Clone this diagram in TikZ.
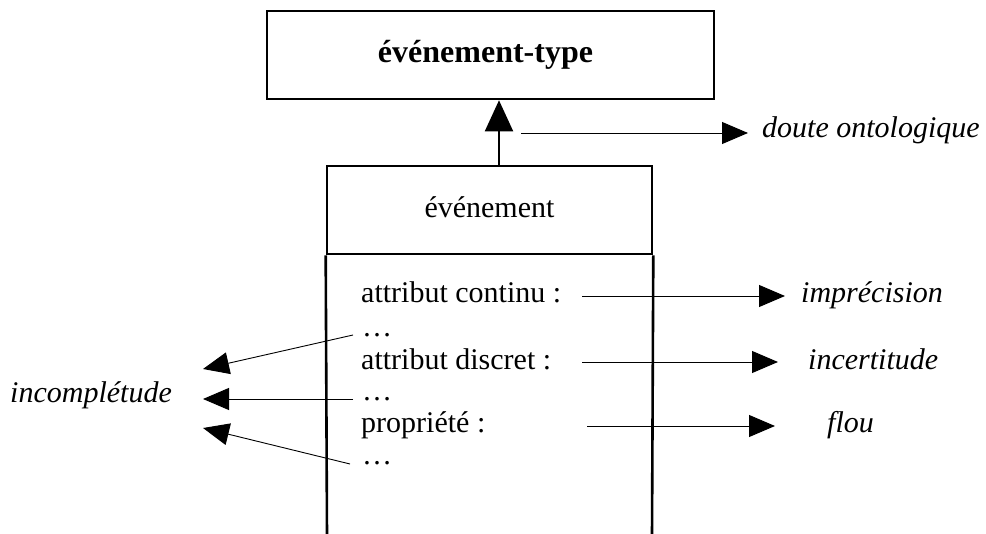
\documentclass[tikz,border=0pt]{standalone}
\usepackage{fontspec}
\setmainfont{Liberation Serif}
\usetikzlibrary{arrows.meta}
\begin{document}
\begin{tikzpicture}[x=1pt,y=-1pt,
  txt/.style={anchor=base west,inner sep=0pt,font=\fontsize{30}{36}\selectfont},
  itxt/.style={txt,font=\fontsize{30}{36}\selectfont\itshape},
  boxline/.style={line width=2.6pt},
  thin/.style={line width=0.9pt,-{Triangle[length=26pt,width=22pt]}}]
\useasboundingbox (0,0) rectangle (986,534);
% top box
\node[draw,boxline,minimum width=447pt,minimum height=88pt,inner sep=0pt,
  font=\fontsize{32}{38}\selectfont\bfseries] (type) at (490.5,55) {\hspace*{-10pt}événement-type};
% lower box header
\node[draw,boxline,minimum width=325pt,minimum height=88pt,inner sep=0pt,
  font=\fontsize{30}{36}\selectfont] (evt) at (489.5,210) {\raisebox{6pt}{événement}};
\coordinate (bl) at (327,536);
\coordinate (br) at (652,536);
\draw[boxline] (evt.south west) -- (bl);
\draw[boxline] (evt.south east) -- (br);
% inheritance arrow
\draw[line width=2pt,-{Triangle[length=31pt,width=28pt]}] (evt.north -| 499,0) -- (type.south -| 499,0);
% attribute texts
\node[txt] (a1) at (361,303) {attribut continu :};
\node[txt] (d1) at (362,337) {…};
\node[txt] (a2) at (361,370) {attribut discret :};
\node[txt] (d2) at (362,401) {…};
\node[txt] (a3) at (361,433) {propriété :};
\node[txt] (d3) at (362,465) {…};
% targets
\node[itxt] (doute) at (762,138) {doute ontologique};
\node[itxt] (impr) at (801,303) {imprécision};
\node[itxt] (incert) at (808,370) {incertitude};
\node[itxt] (flou) at (827,433) {flou};
\node[itxt] (incomp) at (10,403) {incomplétude};
% connector ends
\coordinate (s0) at (521,133); \coordinate (t0) at (748,133);
\coordinate (s1) at (582,296); \coordinate (t1) at (785,296);
\coordinate (s2) at (582,362); \coordinate (t2) at (778,362);
\coordinate (s3) at (587,426); \coordinate (t3) at (775,426);
\coordinate (l1) at (353,335); \coordinate (u1) at (203,369);
\coordinate (l2) at (353,399); \coordinate (u2) at (203,399);
\coordinate (l3) at (350,464); \coordinate (u3) at (203,428);
\draw[thin] (s0) -- (t0);
\draw[thin] (s1) -- (t1);
\draw[thin] (s2) -- (t2);
\draw[thin] (s3) -- (t3);
\draw[thin] (l1) -- (u1);
\draw[thin] (l2) -- (u2);
\draw[thin] (l3) -- (u3);
\end{tikzpicture}
\end{document}
